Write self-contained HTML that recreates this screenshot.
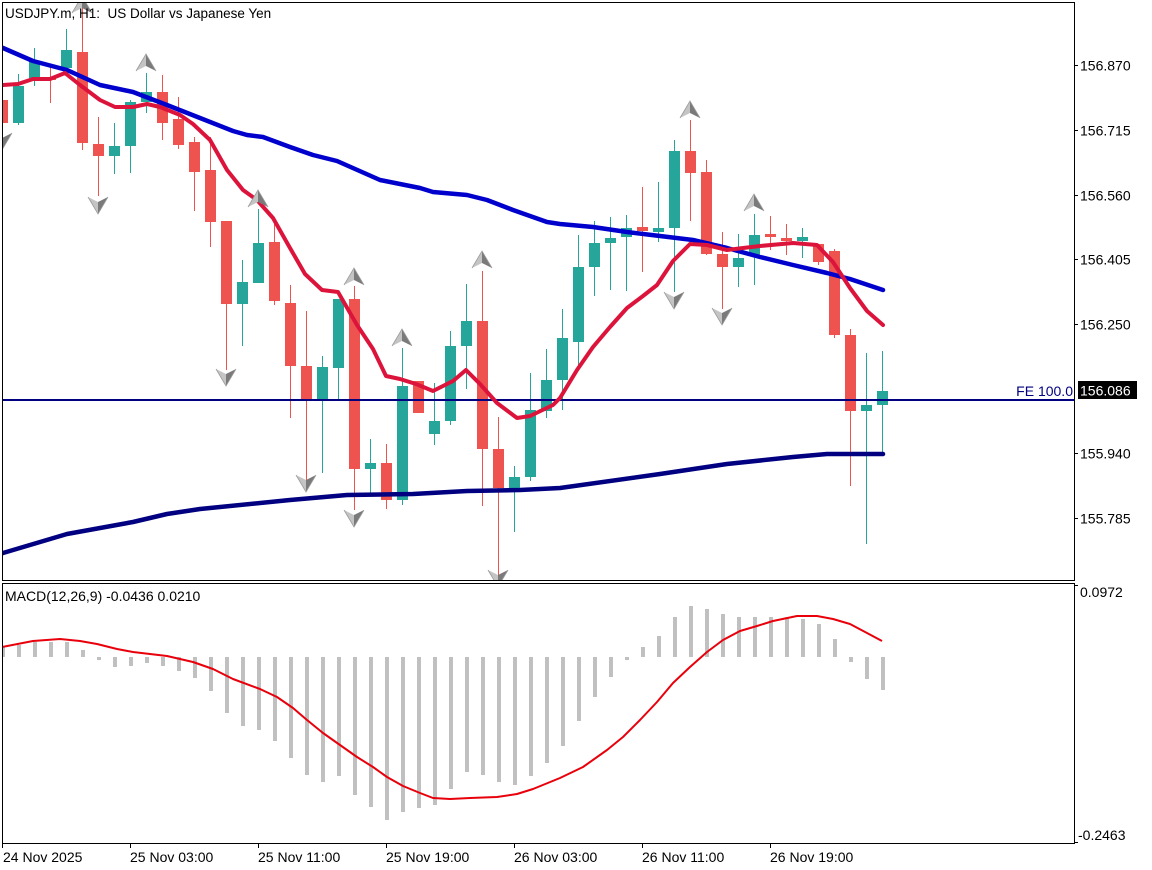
<!DOCTYPE html>
<html><head><meta charset="utf-8"><style>
html,body{margin:0;padding:0;background:#fff;}
svg{display:block;}
text{font-family:"Liberation Sans",Arial,sans-serif;}
</style></head><body>
<svg width="1152" height="870" viewBox="0 0 1152 870" xmlns="http://www.w3.org/2000/svg">
<rect width="1152" height="870" fill="#fff"/>
<defs>
<clipPath id="mc"><rect x="2" y="2" width="1072" height="578"/></clipPath>
<clipPath id="dc"><rect x="2" y="584" width="1072" height="259"/></clipPath>
<g id="ua"><polygon points="0,0 0,12 -10,17" fill="#c4c4c4"/><polygon points="0,0 10,17 0,12" fill="#7a7a7a"/><polyline points="-10,17 0,0 10,17" fill="none" stroke="#9a9a9a" stroke-width="0.8"/></g>
<g id="da"><polygon points="0,0 0,-12 -10,-17" fill="#c4c4c4"/><polygon points="0,0 10,-17 0,-12" fill="#7a7a7a"/><polyline points="-10,-17 0,0 10,-17" fill="none" stroke="#9a9a9a" stroke-width="0.8"/></g>
</defs>
<g clip-path="url(#mc)">
<g fill="#ef5350" stroke="#ef5350" stroke-width="1">
<line x1="2.5" y1="96" x2="2.5" y2="126"/><rect x="-3" y="100" width="11" height="23" stroke="none"/>
<line x1="50.5" y1="65" x2="50.5" y2="103"/><rect x="45" y="78" width="11" height="2" stroke="none"/>
<line x1="82.5" y1="0" x2="82.5" y2="150"/><rect x="77" y="52" width="11" height="91" stroke="none"/>
<line x1="98.5" y1="117" x2="98.5" y2="196"/><rect x="93" y="144" width="11" height="12" stroke="none"/>
<line x1="162.5" y1="75" x2="162.5" y2="140"/><rect x="157" y="92" width="11" height="31" stroke="none"/>
<line x1="178.5" y1="97" x2="178.5" y2="149"/><rect x="173" y="119" width="11" height="26" stroke="none"/>
<line x1="194.5" y1="137" x2="194.5" y2="211"/><rect x="189" y="142" width="11" height="30" stroke="none"/>
<line x1="210.5" y1="137" x2="210.5" y2="247"/><rect x="205" y="170" width="11" height="52" stroke="none"/>
<line x1="226.5" y1="221" x2="226.5" y2="370"/><rect x="221" y="221" width="11" height="83" stroke="none"/>
<line x1="274.5" y1="222" x2="274.5" y2="305"/><rect x="269" y="242" width="11" height="59" stroke="none"/>
<line x1="290.5" y1="285" x2="290.5" y2="418"/><rect x="285" y="303" width="11" height="63" stroke="none"/>
<line x1="306.5" y1="311" x2="306.5" y2="481"/><rect x="301" y="366" width="11" height="33" stroke="none"/>
<line x1="354.5" y1="286" x2="354.5" y2="510"/><rect x="349" y="299" width="11" height="170" stroke="none"/>
<line x1="386.5" y1="444" x2="386.5" y2="509"/><rect x="381" y="463" width="11" height="37" stroke="none"/>
<line x1="418.5" y1="381" x2="418.5" y2="413"/><rect x="413" y="381" width="11" height="32" stroke="none"/>
<line x1="482.5" y1="271" x2="482.5" y2="506"/><rect x="477" y="321" width="11" height="128" stroke="none"/>
<line x1="498.5" y1="417" x2="498.5" y2="580"/><rect x="493" y="449" width="11" height="39" stroke="none"/>
<line x1="642.5" y1="187" x2="642.5" y2="272"/><rect x="637" y="227" width="11" height="4" stroke="none"/>
<line x1="690.5" y1="120" x2="690.5" y2="221"/><rect x="685" y="151" width="11" height="22" stroke="none"/>
<line x1="706.5" y1="160" x2="706.5" y2="255"/><rect x="701" y="172" width="11" height="82" stroke="none"/>
<line x1="722.5" y1="232" x2="722.5" y2="309"/><rect x="717" y="254" width="11" height="13" stroke="none"/>
<line x1="770.5" y1="216" x2="770.5" y2="250"/><rect x="765" y="234" width="11" height="3" stroke="none"/>
<line x1="786.5" y1="224" x2="786.5" y2="255"/><rect x="781" y="238" width="11" height="3" stroke="none"/>
<line x1="818.5" y1="244" x2="818.5" y2="265"/><rect x="813" y="244" width="11" height="18" stroke="none"/>
<line x1="834.5" y1="249" x2="834.5" y2="338"/><rect x="829" y="251" width="11" height="84" stroke="none"/>
<line x1="850.5" y1="329" x2="850.5" y2="486"/><rect x="845" y="335" width="11" height="76" stroke="none"/>
</g>
<g fill="#26a69a" stroke="#26a69a" stroke-width="1">
<line x1="18.5" y1="74" x2="18.5" y2="125"/><rect x="13" y="86" width="11" height="37" stroke="none"/>
<line x1="34.5" y1="48" x2="34.5" y2="86"/><rect x="29" y="61" width="11" height="17" stroke="none"/>
<line x1="66.5" y1="29" x2="66.5" y2="70"/><rect x="61" y="50" width="11" height="18" stroke="none"/>
<line x1="114.5" y1="123" x2="114.5" y2="174"/><rect x="109" y="146" width="11" height="10" stroke="none"/>
<line x1="130.5" y1="100" x2="130.5" y2="173"/><rect x="125" y="102" width="11" height="44" stroke="none"/>
<line x1="146.5" y1="73" x2="146.5" y2="113"/><rect x="141" y="92" width="11" height="10" stroke="none"/>
<line x1="242.5" y1="260" x2="242.5" y2="346"/><rect x="237" y="282" width="11" height="22" stroke="none"/>
<line x1="258.5" y1="209" x2="258.5" y2="283"/><rect x="253" y="243" width="11" height="40" stroke="none"/>
<line x1="322.5" y1="356" x2="322.5" y2="473"/><rect x="317" y="367" width="11" height="34" stroke="none"/>
<line x1="338.5" y1="299" x2="338.5" y2="399"/><rect x="333" y="299" width="11" height="69" stroke="none"/>
<line x1="370.5" y1="439" x2="370.5" y2="495"/><rect x="365" y="463" width="11" height="6" stroke="none"/>
<line x1="402.5" y1="348" x2="402.5" y2="505"/><rect x="397" y="386" width="11" height="114" stroke="none"/>
<line x1="434.5" y1="383" x2="434.5" y2="445"/><rect x="429" y="421" width="11" height="13" stroke="none"/>
<line x1="450.5" y1="331" x2="450.5" y2="425"/><rect x="445" y="346" width="11" height="75" stroke="none"/>
<line x1="466.5" y1="284" x2="466.5" y2="389"/><rect x="461" y="321" width="11" height="25" stroke="none"/>
<line x1="514.5" y1="466" x2="514.5" y2="532"/><rect x="509" y="477" width="11" height="11" stroke="none"/>
<line x1="530.5" y1="373" x2="530.5" y2="481"/><rect x="525" y="410" width="11" height="67" stroke="none"/>
<line x1="546.5" y1="349" x2="546.5" y2="418"/><rect x="541" y="380" width="11" height="31" stroke="none"/>
<line x1="562.5" y1="309" x2="562.5" y2="410"/><rect x="557" y="338" width="11" height="42" stroke="none"/>
<line x1="578.5" y1="235" x2="578.5" y2="366"/><rect x="573" y="267" width="11" height="75" stroke="none"/>
<line x1="594.5" y1="221" x2="594.5" y2="296"/><rect x="589" y="243" width="11" height="24" stroke="none"/>
<line x1="610.5" y1="217" x2="610.5" y2="290"/><rect x="605" y="238" width="11" height="5" stroke="none"/>
<line x1="626.5" y1="215" x2="626.5" y2="291"/><rect x="621" y="228" width="11" height="9" stroke="none"/>
<line x1="658.5" y1="182" x2="658.5" y2="242"/><rect x="653" y="228" width="11" height="4" stroke="none"/>
<line x1="674.5" y1="140" x2="674.5" y2="292"/><rect x="669" y="151" width="11" height="77" stroke="none"/>
<line x1="738.5" y1="234" x2="738.5" y2="287"/><rect x="733" y="258" width="11" height="9" stroke="none"/>
<line x1="754.5" y1="214" x2="754.5" y2="285"/><rect x="749" y="235" width="11" height="21" stroke="none"/>
<line x1="802.5" y1="228" x2="802.5" y2="258"/><rect x="797" y="237" width="11" height="4" stroke="none"/>
<line x1="866.5" y1="353" x2="866.5" y2="544"/><rect x="861" y="405" width="11" height="6" stroke="none"/>
<line x1="882.5" y1="351" x2="882.5" y2="453"/><rect x="877" y="391" width="11" height="14" stroke="none"/>
</g>
<line x1="2" y1="400" x2="1074" y2="400" stroke="#000080" stroke-width="2"/>
<polyline fill="none" stroke="#000080" stroke-width="4.5" stroke-linejoin="round" stroke-linecap="round" points="0,554 3,553 67,534 133,522 167,514 200,509 290,500 347,495 413,494 467,491 520,490 560,488 660,474 727,464 793,457 827,454 883,454"/>
<polyline fill="none" stroke="#0000cd" stroke-width="4.5" stroke-linejoin="round" stroke-linecap="round" points="0,47 3,48 33,61 67,70 100,85 133,92 167,105 200,118 233,131 247,135 263,137 290,147 313,155 337,161 380,180 420,188 433,192 467,195 487,200 513,210 547,222 560,224 593,227 627,232 660,236 693,240 727,248 760,257 793,265 827,273 850,279 883,290"/>
<polyline fill="none" stroke="#dc143c" stroke-width="4" stroke-linejoin="round" stroke-linecap="round" points="0,85 3,85 18,84 33,79 50,79 65,73 80,85 100,100 115,107 133,107 147,104 160,107 180,115 193,124 210,140 227,170 243,190 257,200 273,218 290,248 305,274 322,290 338,292 357,325 373,349 386,376 400,379 416,384 433,391 453,381 466,370 480,384 497,403 517,418 530,416 553,405 560,398 577,370 593,347 610,327 627,308 643,296 657,285 673,261 690,244 707,245 727,250 743,248 760,246 793,243 817,245 833,262 850,288 867,311 883,325"/>
<use href="#ua" x="146" y="54"/>
<use href="#ua" x="258" y="190"/>
<use href="#ua" x="354" y="268"/>
<use href="#ua" x="402" y="329"/>
<use href="#ua" x="482" y="251"/>
<use href="#ua" x="690" y="101"/>
<use href="#ua" x="754" y="194"/>
<use href="#ua" x="82" y="-4"/>
<use href="#da" x="98" y="214"/>
<use href="#da" x="226" y="386"/>
<use href="#da" x="306" y="492"/>
<use href="#da" x="354" y="527"/>
<use href="#da" x="498" y="587"/>
<use href="#da" x="674" y="309"/>
<use href="#da" x="722" y="325"/>
<use href="#da" x="2" y="150"/>
</g>
<text x="5" y="18" font-size="13.5" fill="#000">USDJPY.m, H1:&#160; US Dollar vs Japanese Yen</text>
<text x="1073" y="396" font-size="14" fill="#000080" text-anchor="end">FE 100.0</text>
<rect x="2.5" y="2.5" width="1072" height="578" fill="none" stroke="#000" stroke-width="1"/>
<g stroke="#000" stroke-width="1">
<line x1="1074" y1="65.5" x2="1078" y2="65.5"/>
<line x1="1074" y1="130.5" x2="1078" y2="130.5"/>
<line x1="1074" y1="195.5" x2="1078" y2="195.5"/>
<line x1="1074" y1="259.5" x2="1078" y2="259.5"/>
<line x1="1074" y1="324.5" x2="1078" y2="324.5"/>
<line x1="1074" y1="453.5" x2="1078" y2="453.5"/>
<line x1="1074" y1="518.5" x2="1078" y2="518.5"/>
</g>
<g font-size="14" fill="#000">
<text x="1080" y="70.5">156.870</text>
<text x="1080" y="135.5">156.715</text>
<text x="1080" y="200.5">156.560</text>
<text x="1080" y="264.5">156.405</text>
<text x="1080" y="329.5">156.250</text>
<text x="1080" y="458.5">155.940</text>
<text x="1080" y="523.5">155.785</text>
</g>
<rect x="1078" y="381" width="59" height="18" fill="#000"/>
<text x="1080" y="395.5" font-size="14" fill="#fff">156.086</text>
<g clip-path="url(#dc)">
<g fill="#c0c0c0">
<rect x="2" y="647" width="3" height="10"/>
<rect x="17" y="645" width="4" height="12"/>
<rect x="33" y="642" width="4" height="15"/>
<rect x="49" y="642" width="4" height="15"/>
<rect x="65" y="642" width="4" height="15"/>
<rect x="81" y="650" width="4" height="7"/>
<rect x="97" y="657" width="4" height="3"/>
<rect x="113" y="657" width="4" height="10"/>
<rect x="129" y="657" width="4" height="9"/>
<rect x="145" y="657" width="4" height="6"/>
<rect x="161" y="657" width="4" height="9"/>
<rect x="177" y="657" width="4" height="14"/>
<rect x="193" y="657" width="4" height="21"/>
<rect x="209" y="657" width="4" height="34"/>
<rect x="225" y="657" width="4" height="56"/>
<rect x="241" y="657" width="4" height="69"/>
<rect x="257" y="657" width="4" height="73"/>
<rect x="273" y="657" width="4" height="84"/>
<rect x="289" y="657" width="4" height="101"/>
<rect x="305" y="657" width="4" height="118"/>
<rect x="321" y="657" width="4" height="125"/>
<rect x="337" y="657" width="4" height="119"/>
<rect x="353" y="657" width="4" height="138"/>
<rect x="369" y="657" width="4" height="150"/>
<rect x="385" y="657" width="4" height="163"/>
<rect x="401" y="657" width="4" height="155"/>
<rect x="417" y="657" width="4" height="151"/>
<rect x="433" y="657" width="4" height="148"/>
<rect x="449" y="657" width="4" height="132"/>
<rect x="465" y="657" width="4" height="115"/>
<rect x="481" y="657" width="4" height="118"/>
<rect x="497" y="657" width="4" height="125"/>
<rect x="513" y="657" width="4" height="128"/>
<rect x="529" y="657" width="4" height="119"/>
<rect x="545" y="657" width="4" height="106"/>
<rect x="561" y="657" width="4" height="89"/>
<rect x="577" y="657" width="4" height="64"/>
<rect x="593" y="657" width="4" height="40"/>
<rect x="609" y="657" width="4" height="20"/>
<rect x="625" y="657" width="4" height="3"/>
<rect x="641" y="647" width="4" height="10"/>
<rect x="657" y="636" width="4" height="21"/>
<rect x="673" y="617" width="4" height="40"/>
<rect x="689" y="606" width="4" height="51"/>
<rect x="705" y="609" width="4" height="48"/>
<rect x="721" y="614" width="4" height="43"/>
<rect x="737" y="617" width="4" height="40"/>
<rect x="753" y="617" width="4" height="40"/>
<rect x="769" y="617" width="4" height="40"/>
<rect x="785" y="617" width="4" height="40"/>
<rect x="801" y="619" width="4" height="38"/>
<rect x="817" y="624" width="4" height="33"/>
<rect x="833" y="639" width="4" height="18"/>
<rect x="849" y="657" width="4" height="5"/>
<rect x="865" y="657" width="4" height="22"/>
<rect x="881" y="657" width="4" height="33"/>
</g>
<polyline fill="none" stroke="#e8000b" stroke-width="2" stroke-linejoin="round" points="2,647 33,641 60,639 80,641 97,644 117,649 133,652 167,656 193,662 213,669 233,679 260,689 277,697 293,708 307,720 323,733 340,745 357,757 373,767 387,777 403,786 420,793 433,798 450,799 470,798 497,797 517,794 533,789 560,778 583,767 607,750 623,737 640,720 657,702 673,683 690,667 707,652 723,640 740,631 757,626 773,621 797,616 817,616 833,619 850,624 867,633 882,641"/>
</g>
<text x="5" y="601" font-size="14" fill="#000">MACD(12,26,9) -0.0436 0.0210</text>
<rect x="2.5" y="583.5" width="1072" height="260" fill="none" stroke="#000" stroke-width="1"/>
<g stroke="#000" stroke-width="1">
<line x1="1074" y1="585.5" x2="1078" y2="585.5"/>
<line x1="1074" y1="842.5" x2="1078" y2="842.5"/>
</g>
<text x="1080" y="597" font-size="14" fill="#000">0.0972</text>
<text x="1078" y="840" font-size="14" fill="#000">-0.2463</text>
<g stroke="#000" stroke-width="1">
<line x1="2.5" y1="843" x2="2.5" y2="848"/>
<line x1="130.5" y1="843" x2="130.5" y2="848"/>
<line x1="258.5" y1="843" x2="258.5" y2="848"/>
<line x1="386.5" y1="843" x2="386.5" y2="848"/>
<line x1="514.5" y1="843" x2="514.5" y2="848"/>
<line x1="642.5" y1="843" x2="642.5" y2="848"/>
<line x1="770.5" y1="843" x2="770.5" y2="848"/>
</g>
<g font-size="14" fill="#000">
<text x="3" y="862">24 Nov 2025</text>
<text x="130" y="862">25 Nov 03:00</text>
<text x="258" y="862">25 Nov 11:00</text>
<text x="386" y="862">25 Nov 19:00</text>
<text x="514" y="862">26 Nov 03:00</text>
<text x="642" y="862">26 Nov 11:00</text>
<text x="770" y="862">26 Nov 19:00</text>
</g>
</svg>
</body></html>
